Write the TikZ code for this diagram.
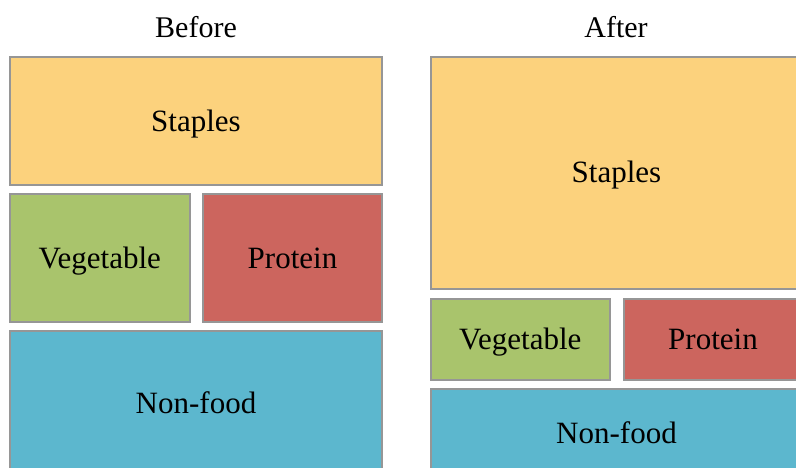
\documentclass[tikz,border=0pt]{standalone}
\usepackage{fontspec}
\setmainfont{Liberation Serif}
\usepackage{xcolor}
\usepackage{tikz}

\definecolor{staplecol}{RGB}{252,210,125}
\definecolor{vegcol}{RGB}{169,196,108}
\definecolor{protcol}{RGB}{204,101,94}
\definecolor{nonfoodcol}{RGB}{92,183,206}
\definecolor{edgecol}{RGB}{150,150,150}

\tikzset{
	blk/.style={draw=edgecol, line width=2pt, rectangle, anchor=north west, inner sep=0pt,
		font=\fontsize{31}{36}\selectfont, text height=20pt, text depth=0pt},
	ttl/.style={inner sep=0pt, font=\fontsize{30}{36}\selectfont, text height=20pt, text depth=0pt}
}

\begin{document}
\begin{tikzpicture}[x=1pt, y=-1pt]
		\useasboundingbox (0,0) rectangle (796,467);

		% Titles
		\node[ttl] (tbefore) at (196,27.5) {Before};
		\node[ttl] (tafter) at (616,27.5) {After};

		% Before
		\node[blk, fill=staplecol, minimum width=372pt, minimum height=128pt] (bstaples) at (9,56) {Staples};
		\node[blk, fill=vegcol, minimum width=179.5pt, minimum height=128pt] (bveg) at (9,193) {Vegetable};
		\node[blk, fill=protcol, minimum width=179pt, minimum height=128pt] (bprot) at (202,193) {Protein};
		\node[blk, fill=nonfoodcol, minimum width=372pt, minimum height=144pt] (bnonfood) at (9,330) {Non-food};

		% After
		\node[blk, fill=staplecol, minimum width=372pt, minimum height=231.5pt] (astaples) at (429.5,56) {Staples};
		\node[blk, fill=vegcol, minimum width=179.5pt, minimum height=81pt] (aveg) at (429.5,297.5) {Vegetable};
		\node[blk, fill=protcol, minimum width=179pt, minimum height=81pt] (aprot) at (622.5,297.5) {Protein};
		\node[blk, fill=nonfoodcol, minimum width=372pt, minimum height=89pt] (anonfood) at (429.5,387.5) {Non-food};
	\end{tikzpicture}
\end{document}
